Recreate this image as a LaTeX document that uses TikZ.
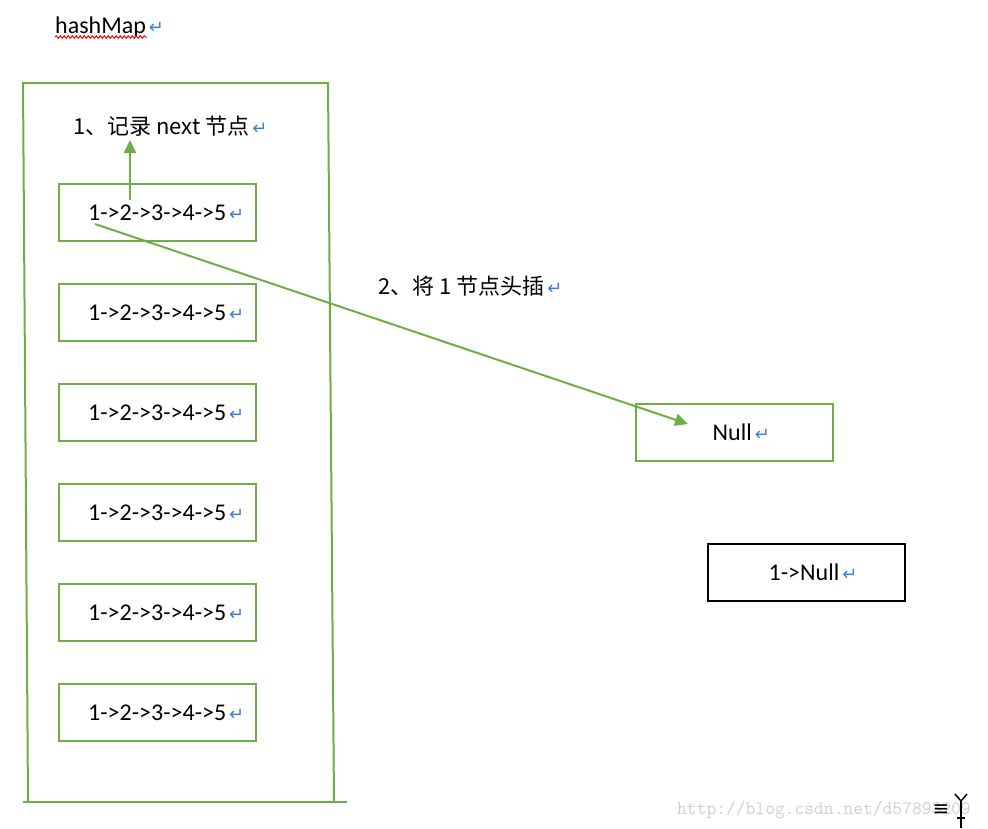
\documentclass[tikz,border=0pt]{standalone}
\usepackage{fontspec}
\setmainfont{Carlito}
\newfontfamily\cjk{Noto Sans CJK SC}
\newfontfamily\symfont{DejaVu Sans}
\usetikzlibrary{positioning,arrows.meta,decorations.pathmorphing}

\definecolor{boxgreen}{HTML}{70AD47}
\definecolor{markblue}{HTML}{3C7FD9}
\definecolor{markgray}{HTML}{CFCFCF}

% Word paragraph mark after each line
\newcommand{\retmark}{{\symfont\fontsize{18}{18}\selectfont\color{markblue}\,↵}}

\tikzset{
    bucket/.style={draw=boxgreen, line width=2pt, minimum width=197pt, minimum height=57pt, inner sep=0pt},
    listbox/.style={draw=black, line width=2pt, minimum width=197pt, minimum height=57pt, inner sep=0pt},
    entry/.style={inner sep=0pt, font=\fontsize{24}{28}\selectfont},
    note/.style={inner sep=0pt, anchor=base west, font=\cjk\fontsize{22}{26}\selectfont},
    greenarrow/.style={draw=boxgreen, line width=2pt, -{Triangle[length=13pt,width=12pt]}},
    squiggle/.style={draw=red, line width=1pt, decorate, decoration={snake, amplitude=1.3pt, segment length=4pt}},
}

\begin{document}
\begin{tikzpicture}[x=1pt,y=-1pt]
    \useasboundingbox (0,0) rectangle (988,828);

    % Title with spell-check underline
    \node[entry, anchor=base west] (hm) at (55,33) {hashMap\retmark};
    \draw[squiggle] ([yshift=-4pt]hm.base west) -- ++(92,0);

    % HashMap table (slightly slanted frame)
    \draw[boxgreen, line width=2pt] (28,802) -- (23,83) -- (328,83) -- (334,802);
    \draw[boxgreen, line width=2pt] (23,802) -- (347,802);

    % Buckets
    \node[bucket] (b1) at (157.5,212.5) {};
    \node[bucket] (b2) at (157.5,312.5) {};
    \node[bucket] (b3) at (157.5,412.5) {};
    \node[bucket] (b4) at (157.5,512.5) {};
    \node[bucket] (b5) at (157.5,612.5) {};
    \node[bucket] (b6) at (157.5,712.5) {};
    \node[entry, right=30pt of b1.west] (t1) {1->2->3->4->5\retmark};
    \node[entry, right=30pt of b2.west] (t2) {1->2->3->4->5\retmark};
    \node[entry, right=30pt of b3.west] (t3) {1->2->3->4->5\retmark};
    \node[entry, right=30pt of b4.west] (t4) {1->2->3->4->5\retmark};
    \node[entry, right=30pt of b5.west] (t5) {1->2->3->4->5\retmark};
    \node[entry, right=30pt of b6.west] (t6) {1->2->3->4->5\retmark};

    % New list head and result
    \node[bucket] (nullbox) at (734,432.5) {};
    \node[entry, right=78pt of nullbox.west] (nulltext) {Null\retmark};
    \node[listbox] (resbox) at (806,572.5) {};
    \node[entry, right=62pt of resbox.west] (restext) {1->Null\retmark};

    % Step labels
    \node[note] (step1) at (73,134) {1、记录 next 节点\retmark};
    \node[note] (step2) at (378,294) {2、将 1 节点头插\retmark};

    % Step arrows
    \coordinate (nextfrom) at (130,200);
    \coordinate (headfrom) at (95,224);
    \coordinate (headto) at (688,424);
    \draw[greenarrow] (nextfrom) -- ([yshift=-4pt]nextfrom |- step1.south);
    \draw[greenarrow] (headfrom) -- (headto);

    % Watermark and mouse cursor
    \node[inner sep=0pt, anchor=base west, text=markgray, font=\ttfamily\fontsize{19}{20}\selectfont] (wm) at (677,814) {http://blog.csdn.net/d57893209};
    \node[inner sep=0pt, font=\symfont\fontsize{20}{20}\selectfont] (menu) at (941,810) {≡};
    \draw[line width=1.5pt] (955,794) -- (961,801) -- (967,794);
    \draw[line width=1.8pt] (961,801) -- (961,828);
    \draw[line width=1.2pt] (957,818) -- (965,818);
\end{tikzpicture}
\end{document}
